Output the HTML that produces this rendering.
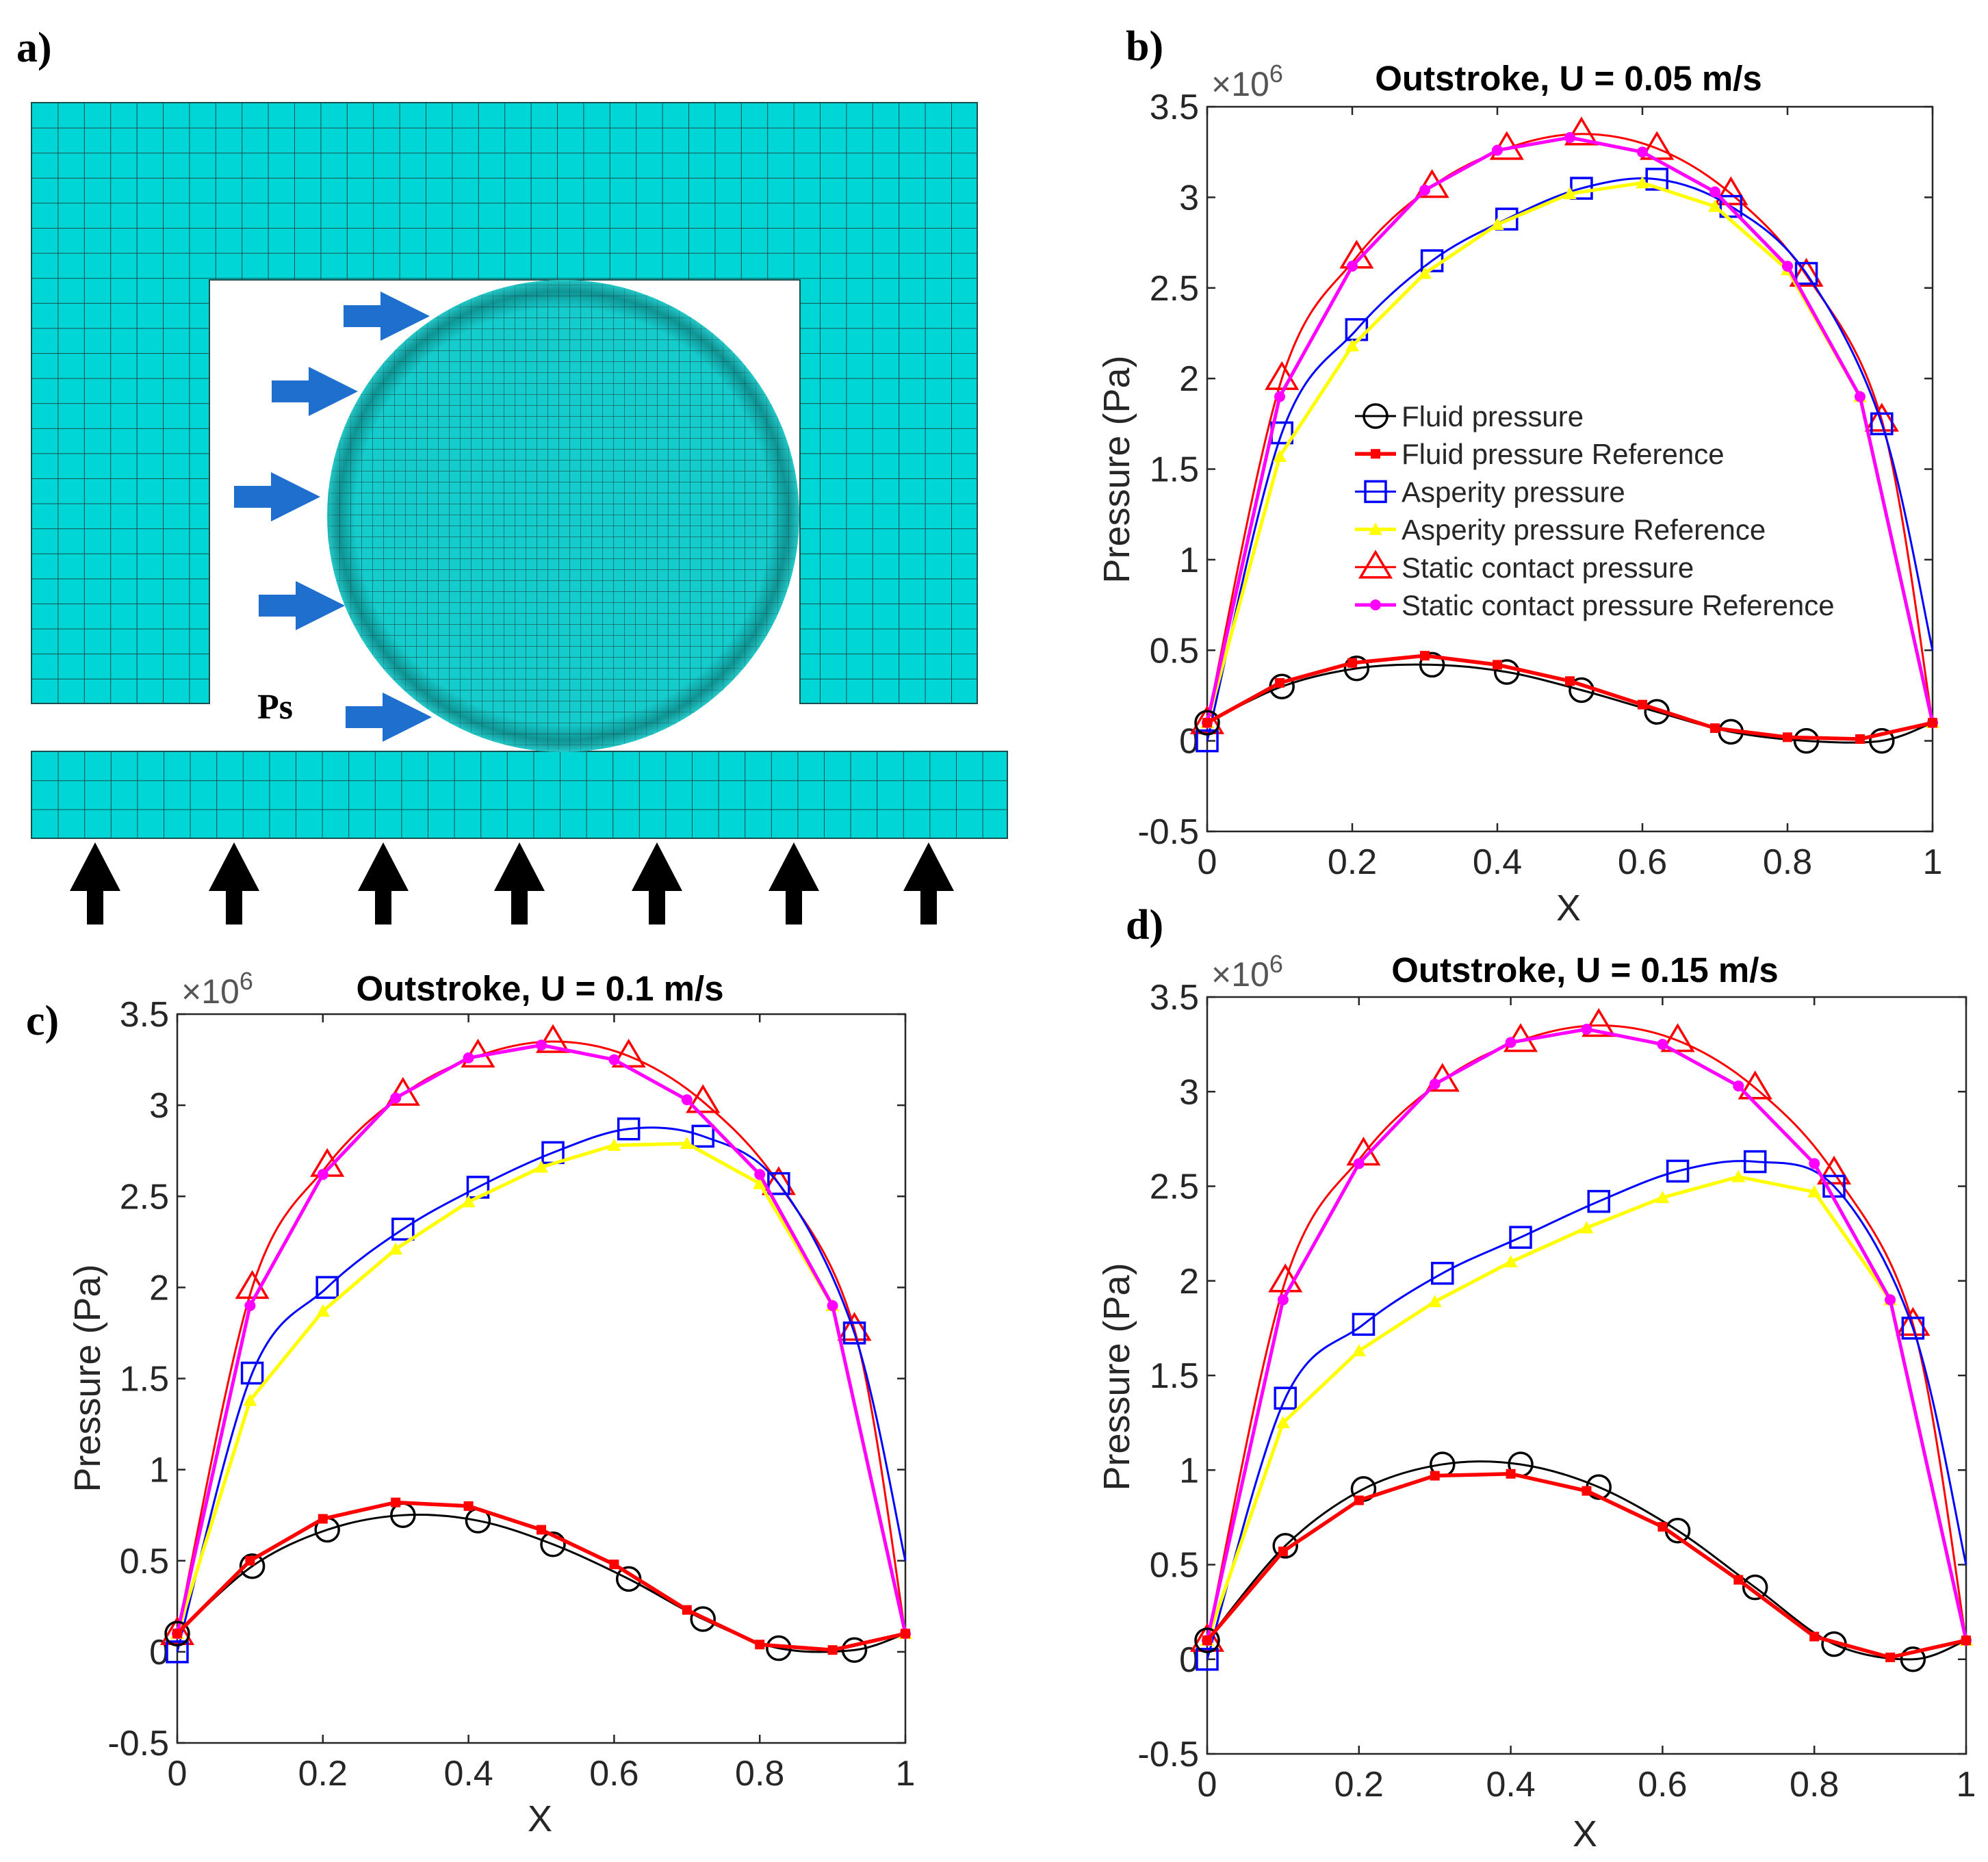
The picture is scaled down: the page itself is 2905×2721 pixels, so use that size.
<!DOCTYPE html>
<html><head><meta charset="utf-8">
<style>
html,body{margin:0;padding:0;background:#fff;}
svg{display:block;}
text{font-family:"Liberation Sans",Arial,sans-serif;}
.lbl{font-family:"Liberation Serif",serif;font-weight:bold;}
</style></head>
<body>
<svg id="fig" width="2905" height="2721" viewBox="0 0 2905 2721" xmlns="http://www.w3.org/2000/svg">
<defs>
<pattern id="meshA" x="46" y="150" width="38.4" height="36.6" patternUnits="userSpaceOnUse">
<rect width="38.4" height="36.6" fill="#00d6d6"/>
<path d="M0 0H38.4M0 0V36.6" stroke="#1b4d4d" stroke-width="2" fill="none"/>
</pattern>
<pattern id="meshB" x="46" y="1098" width="38.6" height="42.3" patternUnits="userSpaceOnUse">
<rect width="38.6" height="42.3" fill="#00d6d6"/>
<path d="M0 0H38.6M0 0V42.3" stroke="#1b4d4d" stroke-width="2" fill="none"/>
</pattern>
<pattern id="meshC" x="0" y="0" width="16" height="16" patternUnits="userSpaceOnUse">
<rect width="16" height="16" fill="#14cccc"/>
<path d="M0 0H16M0 0V16" stroke="#1b4d4d" stroke-width="1.2" fill="none"/>
</pattern>
<radialGradient id="ring" cx="0.5" cy="0.5" r="0.5">
<stop offset="0.88" stop-color="#0a5050" stop-opacity="0"/>
<stop offset="0.95" stop-color="#0a5050" stop-opacity="0.45"/>
<stop offset="1" stop-color="#2ec8c8" stop-opacity="0.6"/>
</radialGradient>
</defs>

<g id="panel-a">
<text class="lbl" x="24" y="90" font-size="62">a)</text>
<path d="M46 150H1428V1028H1169V409H306V1028H46Z" fill="url(#meshA)" stroke="#1b4d4d" stroke-width="2"/>
<rect x="46" y="1098" width="1426" height="127" fill="url(#meshB)" stroke="#1b4d4d" stroke-width="2"/>
<circle cx="823" cy="754" r="345" fill="url(#meshC)"/>
<circle cx="823" cy="754" r="345" fill="url(#ring)"/>
<text class="lbl" x="376" y="1050" font-size="52">Ps</text>
<g id="blue-arrows"></g>
<g id="black-arrows"></g>
</g>

<g id="pb"></g><g id="pc"></g><g id="pd"></g>
</svg>
<script>
// ---- data (values in units of 1e6 Pa) ----
const simX = [0,0.103,0.206,0.31,0.413,0.516,0.62,0.722,0.826,0.93,1];
const refX = [0,0.1,0.2,0.3,0.4,0.5,0.6,0.7,0.8,0.9,1];
const yTicks = [-0.5,0,0.5,1,1.5,2,2.5,3,3.5];
const yTickLabels = ["-0.5","0","0.5","1","1.5","2","2.5","3","3.5"];
const xTicks = [0,0.2,0.4,0.6,0.8,1];
const xTickLabels = ["0","0.2","0.4","0.6","0.8","1"];

const bFluid    = [0.1,0.3,0.4,0.42,0.38,0.28,0.16,0.05,0.0,0.0,0.1];
const bFluidRef = [0.1,0.32,0.43,0.47,0.42,0.33,0.2,0.07,0.02,0.01,0.1];
const bAsp      = [0.0,1.7,2.27,2.65,2.88,3.05,3.1,2.95,2.58,1.75,0.5];
const bAspRef   = [0.1,1.57,2.18,2.58,2.85,3.02,3.08,2.95,2.6,1.9,0.1];
const bStat     = [0.1,2.0,2.67,3.06,3.27,3.35,3.27,3.02,2.57,1.77,0.1];
const bStatRef  = [0.1,1.9,2.62,3.04,3.26,3.33,3.25,3.03,2.62,1.9,0.1];

const cFluid    = [0.1,0.47,0.67,0.75,0.72,0.59,0.4,0.18,0.02,0.01,0.1];
const cFluidRef = [0.1,0.5,0.73,0.82,0.8,0.67,0.48,0.23,0.04,0.01,0.1];
const cAsp      = [0.0,1.53,2.0,2.32,2.55,2.74,2.87,2.83,2.57,1.75,0.5];
const cAspRef   = [0.1,1.38,1.87,2.21,2.47,2.66,2.78,2.79,2.57,1.9,0.1];
const cStat     = [0.1,2.0,2.67,3.06,3.27,3.35,3.27,3.02,2.57,1.77,0.1];
const cStatRef  = [0.1,1.9,2.62,3.04,3.26,3.33,3.25,3.03,2.62,1.9,0.1];

const dFluid    = [0.1,0.6,0.9,1.03,1.03,0.91,0.68,0.38,0.08,0.0,0.1];
const dFluidRef = [0.1,0.57,0.84,0.97,0.98,0.89,0.7,0.42,0.12,0.01,0.1];
const dAsp      = [0.0,1.38,1.77,2.04,2.23,2.42,2.58,2.63,2.5,1.75,0.5];
const dAspRef   = [0.1,1.25,1.63,1.89,2.1,2.28,2.44,2.55,2.47,1.9,0.1];
const dStat     = [0.1,2.0,2.67,3.06,3.27,3.35,3.27,3.02,2.57,1.77,0.1];
const dStatRef  = [0.1,1.9,2.62,3.04,3.26,3.33,3.25,3.03,2.62,1.9,0.1];

const legendLabels = ["Fluid pressure","Fluid pressure Reference","Asperity pressure","Asperity pressure Reference","Static contact pressure","Static contact pressure Reference"];

const NS="http://www.w3.org/2000/svg";
function mk(tag,attrs,parent){const e=document.createElementNS(NS,tag);for(const k in attrs)e.setAttribute(k,attrs[k]);if(parent)parent.appendChild(e);return e;}

// ---- panel a arrows ----
const ba=document.getElementById('blue-arrows');
[[502,462],[397,572],[342,726],[378,885],[505,1048]].forEach((p,i)=>{
  const x=p[0],y=p[1];
  const a=mk('path',{d:`M${x} ${y-16}H${x+54}V${y-36}L${x+126} ${y}L${x+54} ${y+36}V${y+16}H${x}Z`,fill:'#1f6fce'},ba);
  
  
});
const bk=document.getElementById('black-arrows');
[139,342,560,759,960,1160,1357].forEach((x,i)=>{
  const a=mk('path',{d:`M${x-12} 1351V1302H${x-37}L${x} 1231L${x+37} 1302H${x+12}V1351Z`,fill:'#000'},bk);
  
  
});

// ---- chart drawing ----
function smoothPath(pts){
  let d=`M${pts[0][0]} ${pts[0][1]}`;
  for(let i=0;i<pts.length-1;i++){
    const p0=pts[i-1]||pts[i],p1=pts[i],p2=pts[i+1],p3=pts[i+2]||p2;
    const c1=[p1[0]+(p2[0]-p0[0])/6,p1[1]+(p2[1]-p0[1])/6];
    const c2=[p2[0]-(p3[0]-p1[0])/6,p2[1]-(p3[1]-p1[1])/6];
    d+=` C${c1[0]} ${c1[1]} ${c2[0]} ${c2[1]} ${p2[0]} ${p2[1]}`;
  }
  return d;
}
function marker(g,type,x,y,color,name){
  let e;
  if(type==='circle') e=mk('circle',{cx:x,cy:y,r:17,fill:'none',stroke:color,'stroke-width':3.5},g);
  else if(type==='square') e=mk('rect',{x:x-15,y:y-15,width:30,height:30,fill:'none',stroke:color,'stroke-width':3.5},g);
  else if(type==='tri') e=mk('path',{d:`M${x} ${y-22}L${x+22} ${y+15}L${x-22} ${y+15}Z`,fill:'none',stroke:color,'stroke-width':3.5},g);
  else if(type==='fsq') e=mk('rect',{x:x-7,y:y-7,width:14,height:14,fill:color},g);
  else if(type==='ftri') e=mk('path',{d:`M${x} ${y-10}L${x+10} ${y+8}L${x-10} ${y+8}Z`,fill:color},g);
  else e=mk('circle',{cx:x,cy:y,r:8,fill:color},g);
  
  
}
function chart(id,L,R,T,B,letter,letterPos,title,titlePos,xlabPos,ylabPos,S,legend){
  const g=document.getElementById(id);
  
  
  const xs=v=>L+(R-L)*v, ys=v=>B-(B-T)*(v+0.5)/4;
  const lt=mk('text',{x:letterPos[0],y:letterPos[1],'font-size':62,class:'lbl'},g);lt.textContent=letter+')';
  
  const tt=mk('text',{x:titlePos[0],y:titlePos[1],'font-size':51,'font-weight':'bold','text-anchor':'middle'},g);tt.textContent=title;
  
  const ax=mk('rect',{x:L,y:T,width:R-L,height:B-T,fill:'#fff',stroke:'#262626','stroke-width':2.5},g);
  
  yTicks.forEach((v,i)=>{
    const y=ys(v);
    mk('path',{d:`M${L} ${y}H${L+12}M${R} ${y}H${R-12}`,stroke:'#262626','stroke-width':2.5},g);
    const t=mk('text',{x:L-12,y:y+18,'font-size':52,'text-anchor':'end',fill:'#262626'},g);t.textContent=yTickLabels[i];
    
  });
  xTicks.forEach((v,i)=>{
    const x=xs(v);
    mk('path',{d:`M${x} ${B}V${B-12}M${x} ${T}V${T+12}`,stroke:'#262626','stroke-width':2.5},g);
    const t=mk('text',{x:x,y:B+62,'font-size':52,'text-anchor':'middle',fill:'#262626'},g);t.textContent=xTickLabels[i];
    
  });
  const ex=mk('text',{x:L+6,y:T-16,'font-size':50,fill:'#555'},g);
  ex.innerHTML='×10<tspan dy="-20" font-size="36">6</tspan>';
  
  const xl=mk('text',{x:xlabPos[0],y:xlabPos[1],'font-size':54,'text-anchor':'middle',fill:'#262626'},g);xl.textContent='X';
  
  const yl=mk('text',{x:0,y:0,'font-size':54,'text-anchor':'middle',fill:'#262626',transform:`translate(${ylabPos[0]},${ylabPos[1]}) rotate(-90)`},g);yl.textContent='Pressure (Pa)';
  
  const defs=[
    {v:S.stat,x:simX,c:'#ff0000',w:3,m:'tri',sm:true,n:'static-contact'},
    {v:S.asp,x:simX,c:'#0000ff',w:3,m:'square',sm:true,n:'asperity'},
    {v:S.aspRef,x:refX,c:'#ffff00',w:5,m:'ftri',sm:false,n:'asperity-ref'},
    {v:S.statRef,x:refX,c:'#ff00ff',w:5,m:'fcir',sm:false,n:'static-contact-ref'},
    {v:S.fluid,x:simX,c:'#000000',w:3,m:'circle',sm:true,n:'fluid'},
    {v:S.fluidRef,x:refX,c:'#ff0000',w:5.5,m:'fsq',sm:false,n:'fluid-ref'}
  ];
  defs.forEach(s=>{
    const sg=mk('g',{},g);
    
    const pts=s.v.map((v,i)=>[xs(s.x[i]),ys(v)]);
    const d=s.sm?smoothPath(pts):'M'+pts.map(p=>p.join(' ')).join('L');
    const p=mk('path',{d:d,fill:'none',stroke:s.c,'stroke-width':s.w,'stroke-linejoin':'round'},sg);
    
    pts.forEach((q,i)=>{ if(s.sm && i===pts.length-1) return; marker(sg,s.m,q[0],q[1],s.c,'marker-'+s.n);});
  });
  if(legend){
    const lg=mk('g',{},g);
    
    const items=[['circle','#000',3],['fsq','#ff0000',5.5],['square','#0000ff',3],['ftri','#ffff00',5],['tri','#ff0000',3],['fcir','#ff00ff',5]];
    items.forEach((it,i)=>{
      const y=608+i*55.2, x0=1980, x1=2040;
      const e=mk('g',{},lg);
      
      mk('path',{d:`M${x0} ${y}H${x1}`,stroke:it[1],'stroke-width':it[2]},e);
      marker(e,it[0],(x0+x1)/2,y,it[1],'legend-marker');
      const t=mk('text',{x:2048,y:y+15,'font-size':42,fill:'#262626'},e);t.textContent=legendLabels[i];
    });
  }
}
chart('pb',1764,2824,156,1215,'b',[1645,88],'Outstroke, U = 0.05 m/s',[2292,132],[2292,1345],[1650,686],
  {fluid:bFluid,fluidRef:bFluidRef,asp:bAsp,aspRef:bAspRef,stat:bStat,statRef:bStatRef},true);
chart('pc',259,1323,1482,2547,'c',[38,1512],'Outstroke, U = 0.1 m/s',[789,1462],[789,2676],[146,2014],
  {fluid:cFluid,fluidRef:cFluidRef,asp:cAsp,aspRef:cAspRef,stat:cStat,statRef:cStatRef},false);
chart('pd',1764,2873,1457,2563,'d',[1645,1372],'Outstroke, U = 0.15 m/s',[2316,1435],[2316,2698],[1650,2012],
  {fluid:dFluid,fluidRef:dFluidRef,asp:dAsp,aspRef:dAspRef,stat:dStat,statRef:dStatRef},false);
</script>
</body></html>
